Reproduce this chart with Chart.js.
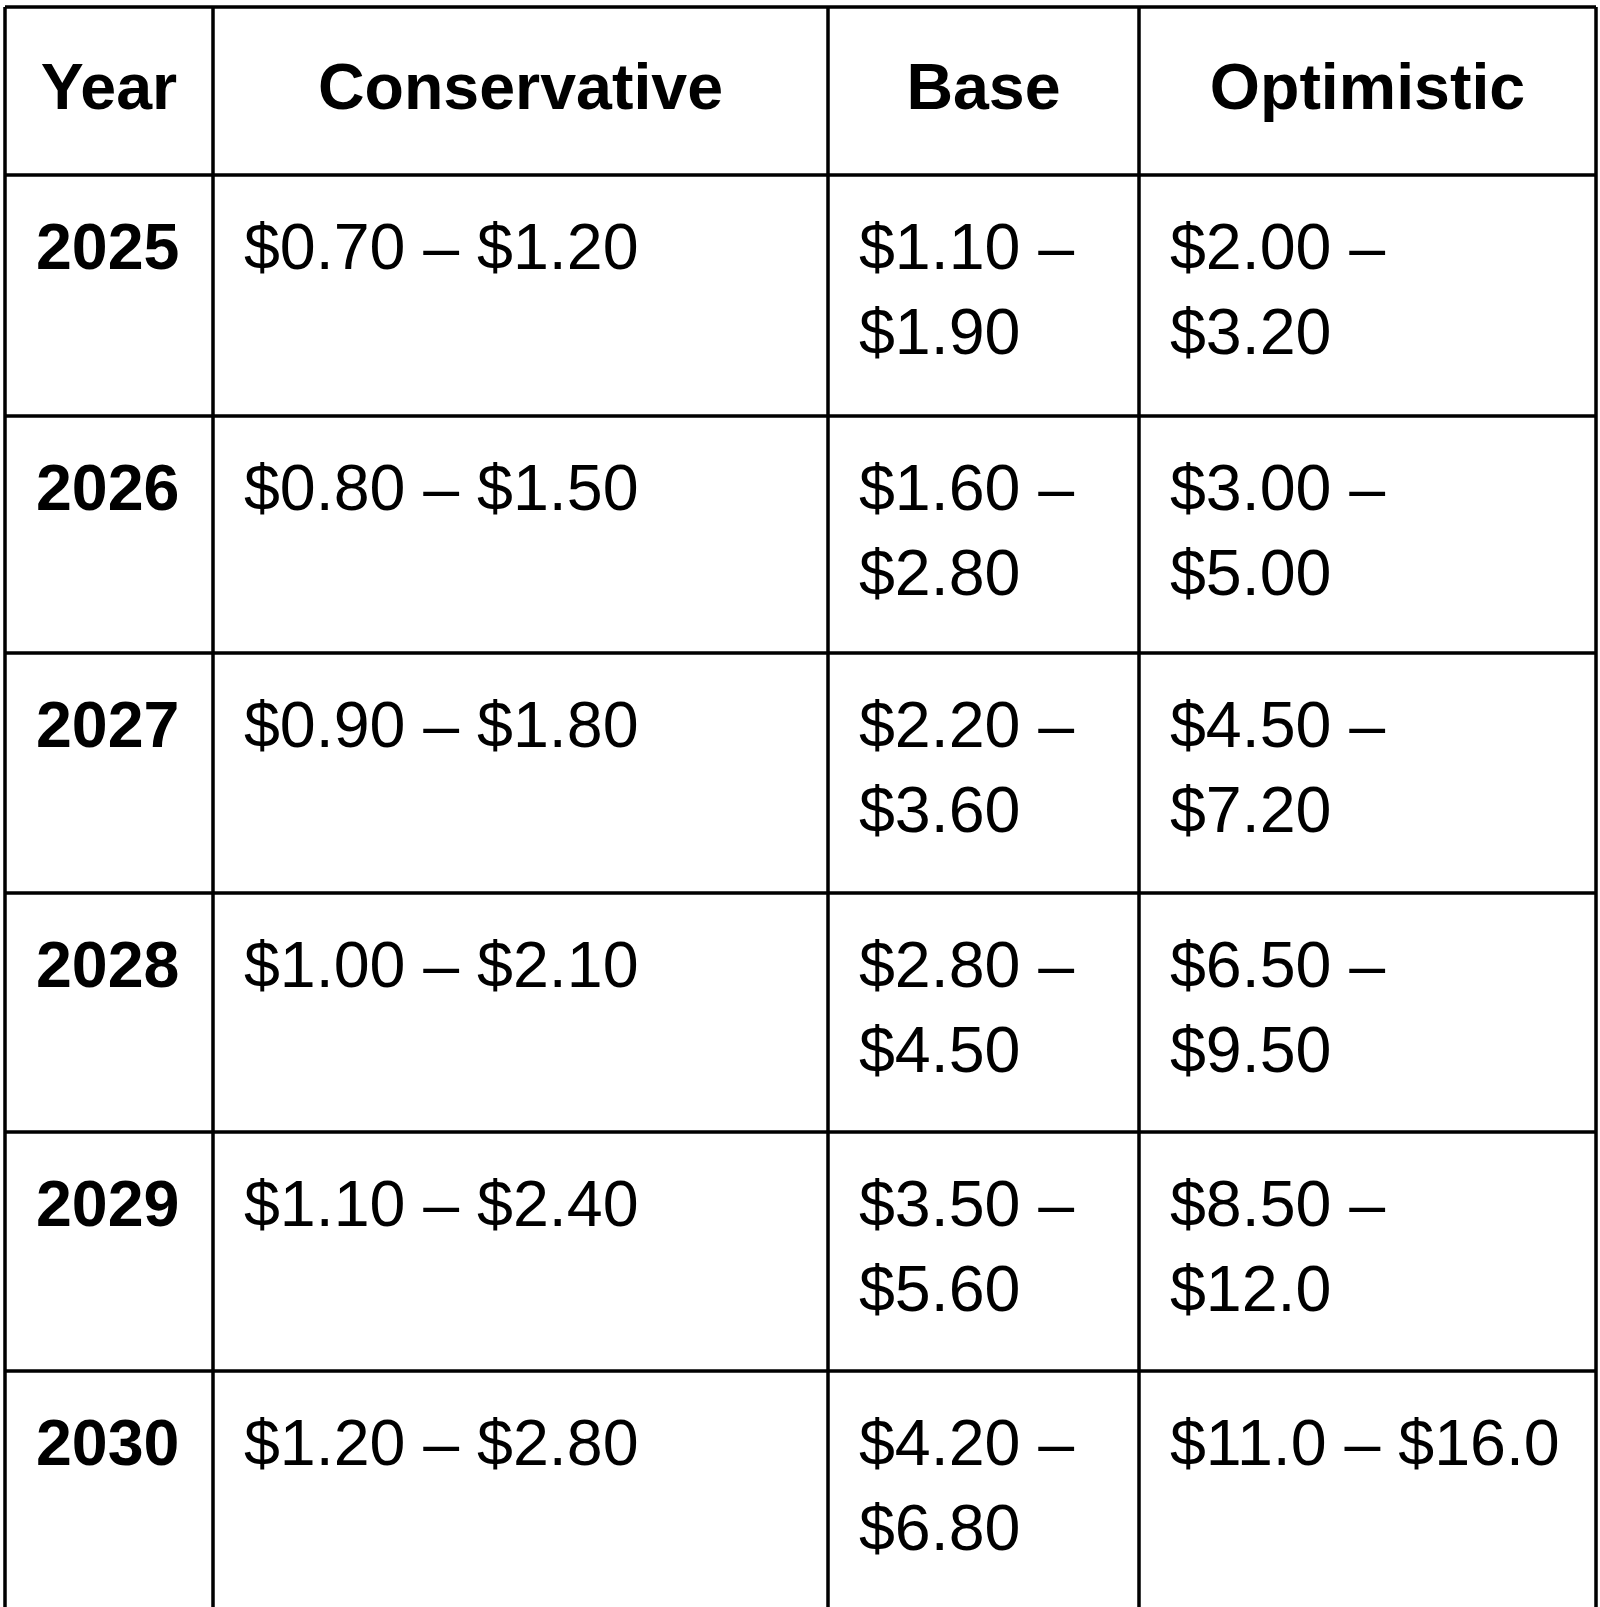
<!DOCTYPE html>
<html><head><meta charset="utf-8">
<script src="https://cdn.jsdelivr.net/npm/chart.js@4"></script>
<style>html,body{margin:0;padding:0;background:#fff}#wrap{width:1600px;height:1607px}</style>
</head><body><div id="wrap"><canvas id="c"></canvas></div>
<script>
const headers = ["Year", "Conservative", "Base", "Optimistic"];
const years = ["2025", "2026", "2027", "2028", "2029", "2030"];
const conservative = [["$0.70 – $1.20"], ["$0.80 – $1.50"], ["$0.90 – $1.80"], ["$1.00 – $2.10"], ["$1.10 – $2.40"], ["$1.20 – $2.80"]];
const base = [["$1.10 –", "$1.90"], ["$1.60 –", "$2.80"], ["$2.20 –", "$3.60"], ["$2.80 –", "$4.50"], ["$3.50 –", "$5.60"], ["$4.20 –", "$6.80"]];
const optimistic = [["$2.00 –", "$3.20"], ["$3.00 –", "$5.00"], ["$4.50 –", "$7.20"], ["$6.50 –", "$9.50"], ["$8.50 –", "$12.0"], ["$11.0 – $16.0"]];

// layout (scale units = pixels)
const colEdges = [5, 213, 828, 1139, 1596];
const rowEdges = [7, 175, 416, 653, 893, 1132, 1371, 1680];

const tablePlugin = {
  id: 'table',
  afterDraw(chart) {
    const ctx = chart.ctx, xs = chart.scales.x, ys = chart.scales.y;
    const X = v => xs.getPixelForValue(v), Y = v => ys.getPixelForValue(v);
    ctx.save();
    ctx.fillStyle = '#000';
    ctx.textBaseline = 'middle';
    ctx.font = 'bold 64.5px "Liberation Sans", Arial, sans-serif';
    ctx.textAlign = 'center';
    headers.forEach((h, i) => {
      ctx.fillText(h, (X(colEdges[i]) + X(colEdges[i + 1])) / 2, (Y(rowEdges[0]) + Y(rowEdges[1])) / 2);
    });
    const cols = [conservative, base, optimistic];
    years.forEach((yr, r) => {
      const top = Y(rowEdges[r + 1]);
      ctx.textAlign = 'left';
      ctx.font = 'bold 64.5px "Liberation Sans", Arial, sans-serif';
      ctx.fillText(yr, X(colEdges[0]) + 31, top + 76);
      ctx.font = '64.5px "Liberation Sans", Arial, sans-serif';
      cols.forEach((col, c) => {
        col[r].forEach((line, li) => {
          ctx.fillText(line, X(colEdges[c + 1]) + 31, top + 76 + li * 85);
        });
      });
    });
    ctx.strokeStyle = '#000';
    ctx.lineWidth = 3.5;
    ctx.beginPath();
    colEdges.forEach(x => { ctx.moveTo(X(x), Y(rowEdges[0])); ctx.lineTo(X(x), Y(rowEdges[rowEdges.length - 1])); });
    rowEdges.forEach(y => { ctx.moveTo(X(colEdges[0]), Y(y)); ctx.lineTo(X(colEdges[colEdges.length - 1]), Y(y)); });
    ctx.stroke();
    ctx.restore();
  }
};

new Chart(document.getElementById('c'), {
  type: 'scatter',
  data: { datasets: [{ data: [] }] },
  options: {
    responsive: true, maintainAspectRatio: false, animation: false,
    layout: { padding: 0 },
    plugins: { legend: { display: false }, tooltip: { enabled: false } },
    scales: {
      x: { type: 'linear', min: 0, max: 1600, display: false },
      y: { type: 'linear', min: 0, max: 1607, reverse: true, display: false }
    }
  },
  plugins: [tablePlugin]
});
</script></body></html>
